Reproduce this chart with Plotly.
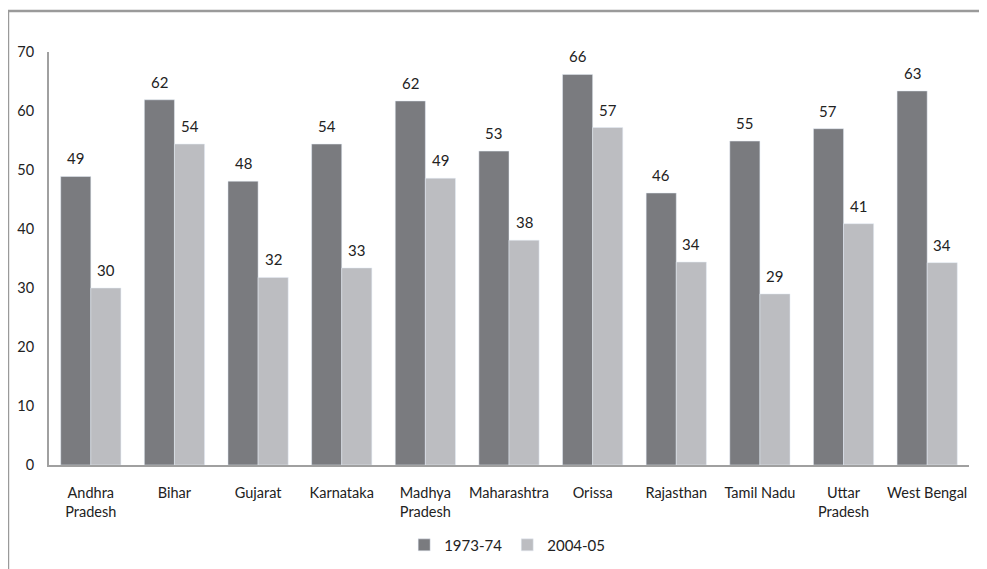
import plotly.graph_objects as go

states = ["Andhra<br>Pradesh", "Bihar", "Gujarat", "Karnataka", "Madhya<br>Pradesh",
          "Maharashtra", "Orissa", "Rajasthan", "Tamil Nadu", "Uttar<br>Pradesh", "West Bengal"]
v1973 = [48.9, 61.9, 48.1, 54.4, 61.7, 53.2, 66.2, 46.1, 54.9, 57.0, 63.4]
v2004 = [30.0, 54.4, 31.8, 33.4, 48.6, 38.1, 57.2, 34.4, 29.0, 40.9, 34.3]
yticks = [0, 10, 20, 30, 40, 50, 60, 70]

FONT = "Lato"
BARGAP = 0.28
fig = go.Figure()
fig.add_trace(go.Bar(x=states, y=v1973, name="1973-74", marker_color="#7a7b7f"))
fig.add_trace(go.Bar(x=states, y=v2004, name="2004-05", marker_color="#bcbdc1"))

# value labels above bars
plot_w = 987 - 41 - 26
half = plot_w / len(states) * (1 - BARGAP) / 4
annotations = []
for series, dx in ((v1973, -half), (v2004, half)):
    for s, v in zip(states, series):
        annotations.append(dict(x=s, y=v, xref="x", yref="y", text=f"{v:.0f}",
                                showarrow=False, xshift=dx, yshift=7, yanchor="bottom",
                                font=dict(size=15, color="#222222")))

fig.update_layout(
    width=987, height=569,
    margin=dict(l=41, r=26, t=44, b=112, autoexpand=False),
    paper_bgcolor="white", plot_bgcolor="white",
    font=dict(family=FONT, size=14.5, color="#222222"),
    barmode="group", bargap=BARGAP, bargroupgap=0,
    showlegend=True,
    legend=dict(orientation="h", x=0.498, xanchor="center", y=-0.194, yanchor="middle",
                font=dict(size=15), tracegroupgap=0),
    xaxis=dict(showline=True, linecolor="#a0a0a0", linewidth=2, ticks="outside",
               ticklen=14, tickcolor="rgba(0,0,0,0)", showgrid=False),
    yaxis=dict(range=[0, 70], tickvals=yticks, showline=True, linecolor="#a0a0a0",
               linewidth=2, showgrid=False, zeroline=False, ticks="outside",
               ticklen=10, tickcolor="rgba(0,0,0,0)"),
    annotations=annotations,
    shapes=[dict(type="rect", xref="paper", yref="paper", x0=-0.0446, x1=1.2,
                 y0=-0.4, y1=1.0993, line=dict(color="#9a9a9a", width=2.5),
                 fillcolor="rgba(0,0,0,0)", layer="below")],
)
fig.write_html("out.html")
